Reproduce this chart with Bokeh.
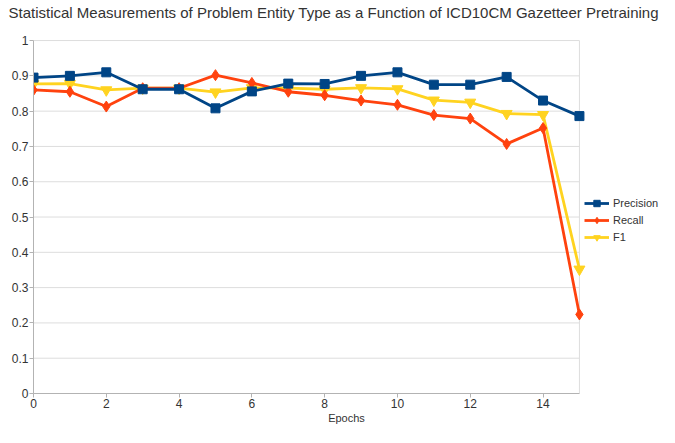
from bokeh.plotting import figure
from bokeh.models import Legend, LegendItem, FixedTicker, Range1d
from bokeh.embed import file_html
from bokeh.resources import INLINE

epochs = list(range(16))
precision = [0.895, 0.900, 0.910, 0.862, 0.862, 0.808, 0.856, 0.878, 0.877, 0.900, 0.910, 0.875, 0.875, 0.897, 0.830, 0.786]
recall = [0.860, 0.855, 0.813, 0.865, 0.865, 0.902, 0.880, 0.855, 0.845, 0.830, 0.818, 0.789, 0.779, 0.707, 0.752, 0.224]
f1 = [0.877, 0.878, 0.860, 0.865, 0.865, 0.854, 0.866, 0.865, 0.862, 0.866, 0.863, 0.831, 0.825, 0.793, 0.790, 0.352]

x_ticks = [0, 2, 4, 6, 8, 10, 12, 14]
y_ticks = [0, 0.1, 0.2, 0.3, 0.4, 0.5, 0.6, 0.7, 0.8, 0.9, 1]
y_tick_labels = {0: "0", 1: "1"}
title_text = "Statistical Measurements of Problem Entity Type as a Function of ICD10CM Gazetteer Pretraining"

FONT = "Liberation Sans"
TXT = "#333333"
GRID = "#dddddd"
AXIS = "#b3b3b3"

x_lo, x_hi = epochs[0], epochs[-1]
y_lo, y_hi = y_ticks[0], y_ticks[-1]

# frame spans the whole canvas to the right so that the legend is not clipped
p = figure(width=659, height=427, output_backend="svg", toolbar_location=None,
           x_range=Range1d(x_lo, 17.2), y_range=Range1d(y_lo, 1.054),
           min_border_left=33, min_border_right=0, min_border_top=0, min_border_bottom=34,
           title=title_text)
p.title.text_font = FONT
p.title.text_font_size = "15px"
p.title.text_font_style = "normal"
p.title.text_color = TXT
p.title.align = "left"
p.title.offset = -25
p.title.standoff = 2
p.grid.visible = False
p.outline_line_color = None

# horizontal grid lines and the right wall, limited to the data area
n = len(y_ticks)
p.segment(x0=[x_lo] * n, y0=y_ticks, x1=[x_hi] * n, y1=y_ticks, line_color=GRID, line_width=1)
p.segment(x0=[x_hi], y0=[y_lo], x1=[x_hi], y1=[y_hi], line_color=GRID, line_width=1)

for ax in (p.xaxis[0], p.yaxis[0]):
    ax.axis_line_color = AXIS
    ax.major_tick_line_color = AXIS
    ax.minor_tick_line_color = None
    ax.major_tick_in = 0
    ax.major_tick_out = 4
    ax.major_label_text_font = FONT
    ax.major_label_text_font_size = "12px"
    ax.major_label_text_color = TXT

p.xaxis.bounds = (x_lo, x_hi)
p.yaxis.bounds = (y_lo, y_hi)
p.xaxis.ticker = FixedTicker(ticks=x_ticks)
p.yaxis.ticker = FixedTicker(ticks=y_ticks)
p.yaxis.major_label_overrides = y_tick_labels
p.yaxis.major_label_standoff = 1
p.xaxis.major_label_standoff = 1
p.xaxis.axis_label = "Epochs"
p.xaxis.axis_label_text_font = FONT
p.xaxis.axis_label_text_font_size = "11px"
p.xaxis.axis_label_text_font_style = "normal"
p.xaxis.axis_label_text_color = TXT
p.xaxis.axis_label_standoff = 1

c_p, c_r, c_f = "#004586", "#ff420e", "#ffd320"

lf = p.line(epochs, f1, line_color=c_f, line_width=2.8)
sf = p.scatter(epochs, f1, marker="inverted_triangle", size=11, fill_color=c_f, line_color=c_f)
lr = p.line(epochs, recall, line_color=c_r, line_width=2.8)
sr = p.scatter(epochs, recall, marker="diamond", size=11, fill_color=c_r, line_color=c_r)
lp = p.line(epochs, precision, line_color=c_p, line_width=2.8)
sp = p.scatter(epochs, precision, marker="square", size=9, fill_color=c_p, line_color=c_p)

legend = Legend(items=[
    LegendItem(label="Precision", renderers=[lp, sp]),
    LegendItem(label="Recall", renderers=[lr, sr]),
    LegendItem(label="F1", renderers=[lf, sf]),
], location=(551, 148))
legend.border_line_color = None
legend.background_fill_alpha = 0
legend.padding = 0
legend.margin = 0
legend.spacing = 1
legend.glyph_width = 25
legend.glyph_height = 16
legend.label_height = 16
legend.label_standoff = 4
legend.label_text_font = FONT
legend.label_text_font_size = "11px"
legend.label_text_color = TXT
p.add_layout(legend)

open("out.html", "w").write(file_html(p, INLINE))
